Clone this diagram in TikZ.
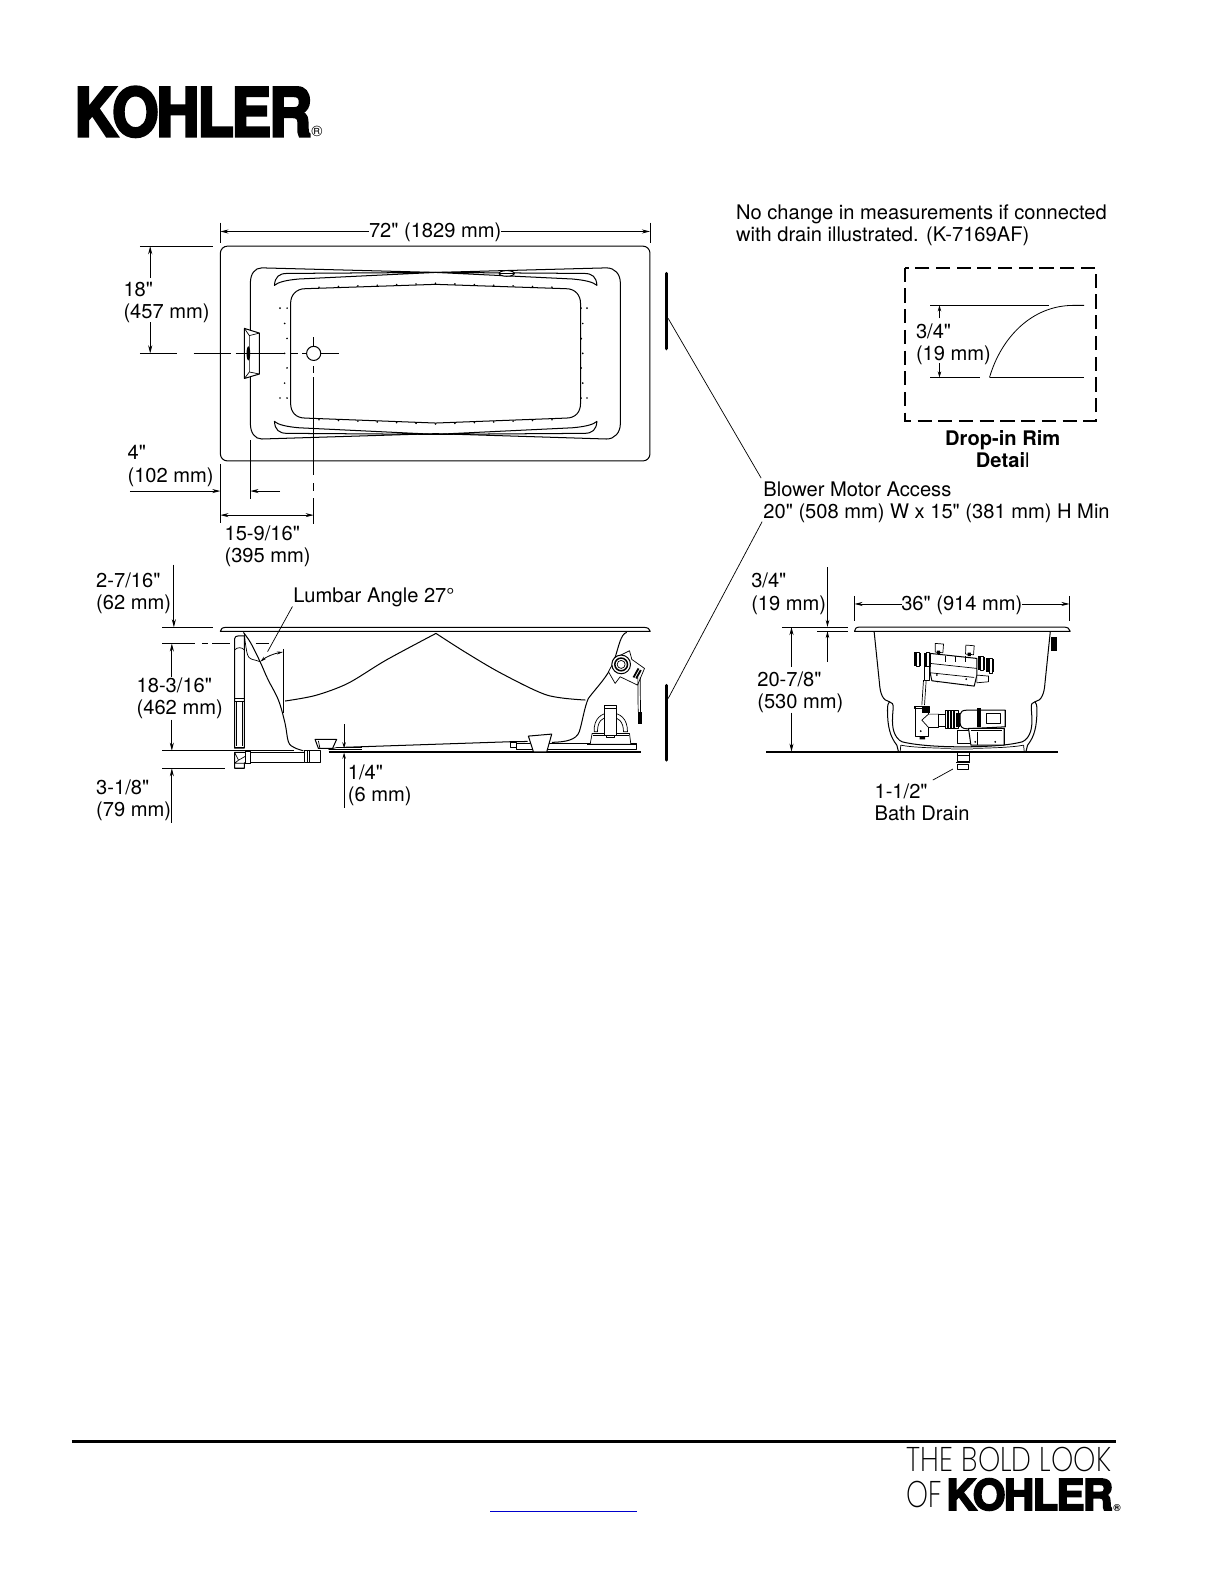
\documentclass[tikz,border=0pt]{standalone}
\usepackage{fontspec}
\usetikzlibrary{arrows.meta}
\setmainfont{TeX Gyre Heros}
\newfontfamily\lblfont{TeX Gyre Heros}
\newfontfamily\logofont[FakeBold=4,LetterSpace=-4]{TeX Gyre Heros Bold}
\newfontfamily\thinlogo{Poppins ExtraLight}
\tikzset{
  lbl/.style={anchor=west,align=left,inner sep=0pt,yshift=-2pt,font=\lblfont\fontsize{19.9}{22}\selectfont},
  main/.style={line width=1pt,black,line join=round},
  fine/.style={line width=.7pt,black,line join=round},
  dimline/.style={line width=.8pt,black},
  tip/.style={arrows={-{Stealth[length=8pt,width=4pt]}}},
  tipb/.style={arrows={{Stealth[length=8pt,width=4pt]}-{Stealth[length=8pt,width=4pt]}}},
  thickbar/.style={line width=3pt,black,line cap=round},
}
\begin{document}
\begin{tikzpicture}[x=1pt,y=-1pt]
\useasboundingbox (0,0) rectangle (1212,1568);
\fill[white] (0,0) rectangle (1212,1568);

% ---- logo top
\node[inner sep=0pt,anchor=north west] (logotop) at (73.5,85.5) {\resizebox{235pt}{49pt}{\logofont KOHLER}};
\node[inner sep=0pt,font=\lblfont\fontsize{15}{15}\selectfont] (regtop) at (313.5,130.5) {®};

% ---- top view
\draw[main,rounded corners=7pt] (218,243.5) rectangle (643,456);
\draw[main] (259,265) -- (431,269.5) -- (600,265) .. controls (608,265) and (613.7,271) .. (613.7,280)
  -- (613.7,419) .. controls (613.7,428) and (608,434.3) .. (600,434.3) -- (431,429) -- (259,434.3)
  .. controls (252,434.3) and (247.7,428) .. (247.7,419) -- (247.7,280)
  .. controls (247.7,271) and (252,265) .. (259,265) -- cycle;
\foreach \sx/\sy in {1/1,-1/1,1/-1,-1/-1}{
  \begin{scope}[shift={(431,349.6)},xscale=\sx,yscale=\sy]
    \draw[main] (-159.5,-67.3) .. controls (-159,-75.6) and (-155,-79.1) .. (-147,-79.1)
      -- (0,-80.1) -- (-135,-73.6) .. controls (-147,-72.6) and (-156,-70.6) .. (-159.5,-67.3) -- cycle;
  \end{scope}
}
\draw[main] (302,285.6) -- (431,281.3) -- (560,285.6) .. controls (569,285.6) and (574.3,292) .. (574.3,300)
  -- (574.3,399) .. controls (574.3,408) and (569,413.6) .. (560,413.6) -- (431,418.5) -- (302,413.6)
  .. controls (293,413.6) and (287.5,408) .. (287.5,399) -- (287.5,300)
  .. controls (287.5,292) and (293,285.6) .. (302,285.6) -- cycle;
\foreach \xx in {315.6,334.8,354,373.2,392.4,411.6,430.8,450,469.2,488.4,507.6,526.8,546}{
  \pgfmathsetmacro\yya{281.3+abs(\xx-431)/30-1}
  \pgfmathsetmacro\yyb{418.5-abs(\xx-431)/27+1}
  \fill (\xx,\yya) circle (.9);
  \fill (\xx,\yyb) circle (.9);
}
\foreach \px/\py in {277/304.8,284/304.8,281.6/320,284/334.8,281.6/349.6,284/364,281.6/379,277/393.8,284/393.8,
  580.7/304.8,574.8/304.8,576.5/320,575/335,576.5/349.6,575/364,576.5/379,580.7/393.8,574.8/393.8}{
  \fill (\px,\py) circle (.9);
}
\draw[main,fill=white] (501.3,270.5) ellipse (7.5 and 2.8);
\draw[fine] (494,270.5) -- (508.6,270.5);
% grab bar
\draw[main,fill=white] (241.8,324.9) -- (256.6,329.5) -- (256.6,370) -- (241.8,374.4) -- cycle;
\draw[fine] (246.7,332) -- (246.7,368) (246.7,332) -- (256.6,329.5) (246.7,368) -- (256.6,370)
  (246.7,332) -- (241.8,324.9) (246.7,368) -- (241.8,374.4);
\fill (245.7,349.6) ellipse (1.8 and 7);
% drain
\node[circle,draw,line width=1pt,minimum size=14pt,inner sep=0pt] (drain) at (310.3,349.6) {};
% centre lines
\draw[dimline] (138.4,349.6) -- (175,349.6) (191.6,349.6) -- (229,349.6) (233,349.6) -- (282,349.6)
  (287,349.6) -- (294.5,349.6) (299,349.6) -- (303.3,349.6) (317.3,349.6) -- (335.8,349.6);
\draw[dimline] (310.3,333.8) -- (310.3,342.4) (310.3,362) -- (310.3,369.4) (310.3,373.4) -- (310.3,470)
  (310.3,478) -- (310.3,486) (310.3,493) -- (310.3,518);
% 72 dim
\node[lbl,anchor=center] (t72) at (430.5,228) {72" (1829 mm)};
\coordinate (a72l) at (218,229); \coordinate (a72r) at (643,229);
\draw[dimline,tip] (365,229) -- (a72l);
\draw[dimline,tip] (496,229) -- (a72r);
\draw[dimline] (218,220.3) -- (218,240) (643,220.3) -- (643,240);
% 18 dim
\draw[dimline] (138.4,243.5) -- (211,243.5);
\node[lbl] (t18) at (122,297) {18"\\(457 mm)};
\coordinate (a18t) at (148.6,243.5); \coordinate (a18b) at (148.6,349.6);
\draw[dimline,tip] (148.6,275) -- (a18t);
\draw[dimline,tip] (148.6,319) -- (a18b);
% 4 dim
\node[lbl] (t4) at (126,459) {4"\\(102 mm)};
\draw[dimline] (218,459) -- (218,517.8) (247.7,435.4) -- (247.7,493.4);
\coordinate (a4l) at (218,485.8); \coordinate (a4r) at (247.7,485.8);
\draw[dimline,tip] (128.6,485.8) -- (a4l);
\draw[dimline,tip] (277,485.8) -- (a4r);
% 15-9/16 dim
\coordinate (a15l) at (218,509.6); \coordinate (a15r) at (310.3,509.6);
\draw[dimline,tipb] (a15l) -- (a15r);
\node[lbl] (t15) at (222,538.5) {15-9/16"\\(395 mm)};

% ---- blower
\draw[thickbar] (659,270.5) -- (659,345);
\draw[thickbar] (659,678) -- (659,752);
\node[lbl] (tblower) at (755,495) {Blower Motor Access\\20" (508 mm) W x 15" (381 mm) H Min};
\coordinate (lba) at (661,315); \coordinate (lbb) at (753,473);
\coordinate (lbc) at (661,691); \coordinate (lbd) at (754,516);
\draw[fine] (lba) -- (lbb) (lbc) -- (lbd);

% ---- top right note
\node[lbl] (tnote) at (728,220.5) {No change in measurements if connected\\with drain illustrated. (K-7169AF)};

% ---- drop-in detail
\draw[line width=2pt,dash pattern=on 14pt off 6.5pt] (895.1,264.8) rectangle (1083.8,416.2);
\draw[dimline] (920.2,302.1) -- (1037.6,302.1) (920.2,373.4) -- (969.6,373.4) (978.9,373.4) -- (1072.6,373.4);
\draw[dimline] (978.9,373.4) .. controls (990,335) and (1020,302.1) .. (1062,302.1) -- (1072.6,302.1);
\node[lbl] (t34d) at (906,338.5) {3/4"\\(19 mm)};
\coordinate (a34t) at (929.4,302.1); \coordinate (a34b) at (929.4,373.4);
\draw[dimline,arrows={-{Stealth[length=6pt,width=3.5pt]}}] (929.4,315) -- (a34t);
\draw[dimline,arrows={-{Stealth[length=6pt,width=3.5pt]}}] (929.4,359.5) -- (a34b);
\node[lbl,anchor=center,align=center] (tdrop) at (992,442) {\textbf{Drop-in Rim}\\\textbf{Detai}l};

% ---- side view
\draw[main] (218,624.6) .. controls (218,622) and (220,620.6) .. (224,620.6) -- (636,620.6)
  .. controls (641,620.6) and (643,622) .. (643.3,624.6) -- cycle;
% left wall
\draw[main] plot[smooth,tension=.6] coordinates {(240.8,625.6) (248,636) (257.3,654.6) (265,672) (275.4,692.5) (282,715.6) (285.3,733.8) (291,739.5) (300.1,742.7)};
\draw[fine] plot[smooth,tension=.6] coordinates {(241.8,626.6) (243,638) (246,650) (254,653.5) (257.3,654.6)};
% back curve
\draw[main] plot[smooth,tension=.5] coordinates {(282,693.5) (312,688) (344.2,676) (382,653) (431.3,626.6)};
\draw[main] plot[smooth,tension=.5] coordinates {(431.3,626.6) (460,645) (495.7,666) (541,687.6) (579,692.5)};
% right wall
\draw[main] (620,625.6) .. controls (614,627) and (612,640) .. (608,652) .. controls (603,668) and (590,680) .. (582,691)
  .. controls (578,700) and (576,715) .. (573,724) .. controls (570,732) and (560,734) .. (546,734.4);
% floor
\draw[main] (340.4,739.3) -- (507,733.7) -- (522,733.5);
\draw[dimline] (160.5,742.6) -- (291,742.6);
\draw[fine] (325,741.5) -- (358,741.5) (325,741.5) -- (333,739.5) -- (358,739.5);
\draw[line width=1.5pt] (325,743.7) -- (634,743.7);
% rim dims
\draw[dimline] (160.5,620.6) -- (211,620.6);
\draw[dimline] (160.5,636.5) -- (192.7,636.5) (199.6,636.5) -- (206,636.5) (210,636.5) -- (228,636.5) (253,636.5) -- (266,636.5);
\draw[dimline] (160.5,760) -- (223,760);
\node[lbl] (t27) at (95,585) {2-7/16"\\(62 mm)};
\coordinate (a27) at (172,620.6);
\draw[dimline,tip] (172,558.6) -- (a27);
\node[lbl] (t183) at (135,689) {18-3/16"\\(462 mm)};
\coordinate (a183t) at (170,636.5); \coordinate (a183b) at (170,742.6);
\draw[dimline,tip] (170,669.4) -- (a183t);
\draw[dimline,tip] (170,712) -- (a183b);
\node[lbl] (t318) at (95,790) {3-1/8"\\(79 mm)};
\coordinate (a318) at (170,760);
\draw[dimline,tip] (170,814) -- (a318);
\node[lbl] (t14) at (344,775) {1/4"\\(6 mm)};
\coordinate (a14t) at (340.4,740.3); \coordinate (a14b) at (340.4,744.6);
\draw[dimline,arrows={-{Stealth[length=6pt,width=3.5pt]}}] (340.4,716.6) -- (a14t);
\draw[dimline,arrows={-{Stealth[length=6pt,width=3.5pt]}}] (340.4,799) -- (a14b);
% lumbar
\node[lbl] (tlumbar) at (290,589) {Lumbar Angle 27°};
\coordinate (lumbtip) at (264.7,644.7); \coordinate (lumbtop) at (289.3,600);
\draw[fine] (lumbtop) -- (lumbtip);
\draw[dimline] (280.4,642) -- (280.4,705.8);
\draw[dimline,arrows={{Stealth[length=6pt,width=3pt]}-{Stealth[length=6pt,width=3pt]}}] (257.5,654.6) .. controls (263,650) and (271,646.5) .. (280,645);
% overflow pipe
\draw[main,fill=white] (232,642) -- (232,632) .. controls (232,630) and (234,629) .. (236,629) -- (241.8,629) -- (241.8,740) -- (232,740) -- cycle;
\draw[fine] (232,691) -- (241.8,691) (232,694) -- (241.8,694) (233.5,694) -- (233.5,738) (240,694) -- (240,738);
\draw[line width=1.4pt] (231.5,739.5) -- (242.5,739.5);
\draw[fine] (232,643) .. controls (235,640) and (239,640) .. (241.8,643);
% drain assembly below floor
\draw[main,fill=white] (232,744.3) -- (243,744.3) -- (243,754) -- (241.8,755) -- (241.8,760) -- (232,760) -- cycle;
\draw[fine] (232,755) -- (241.8,755) (232,744.3) -- (236,752) -- (232,755) (236,752) -- (243,748);
\draw[main,fill=white] (245.7,744.7) rectangle (301,754.6);
\draw[line width=1.2pt,fill=white] (243,743.5) rectangle (248,755.5);
\draw[main,fill=white] (301,742.7) -- (316.6,742.7) -- (316.6,754.6) -- (301,754.6) -- cycle;
\draw[fine] (304,742.7) -- (304,754.6) (306,742.7) -- (306,754.6);
\draw[main,fill=white] (311.7,731.5) -- (333,731.5) -- (329,740.4) -- (315,740.4) -- cycle;
\draw[fine] (315,733) -- (316.5,740.4);
% right plate and pedestal
\draw[fine,fill=white] (504.6,734.8) rectangle (510.5,739.4);
\draw[main,fill=white] (510.5,736) rectangle (629.3,741.4);
\draw[main,fill=white] (522.7,728.2) -- (545.8,726.2) -- (540.9,743.7) -- (527.7,743.7) -- cycle;
\begin{scope}[shift={(504.6,613.4)},x=.33pt,y=-.33pt]
  % motor
  \draw[fine,fill=white] (240,372) -- (246,340) -- (358,340) -- (362,372) -- cycle;
  \draw[fine] (248,345) -- (355,345) (232,372) -- (376,372);
  \draw[fine,fill=white] (252,335) .. controls (250,295) and (275,278) .. (300,278) .. controls (330,278) and (352,295) .. (352,335) -- (340,335) .. controls (340,305) and (325,290) .. (300,290) .. controls (275,290) and (262,305) .. (262,335) -- cycle;
  \draw[main,fill=white] (282,256) rectangle (320,345);
  \draw[fine] (282,266) -- (320,266) (290,345) -- (290,352) -- (312,352) -- (312,345);
  % control
  \draw[fine,fill=white] (318,112) -- (358,92) -- (365,118) -- (403,145) -- (382,195) -- (330,170) -- (315,190) -- (295,155) -- cycle;
  \draw[main,fill=white] (333,133) circle (28);
  \draw[line width=1.5pt] (333,133) circle (19);
  \draw[fine] (333,133) circle (12);
  \draw[line width=1.8pt] (370,172) -- (385,145) (378,175) -- (392,150);
  \draw[fine] (383,172) -- (384,275) (390,172) -- (391,275);
  \fill (383,275) rectangle (395,312);
\end{scope}

% ---- end view
\draw[main] (845.3,624.6) .. controls (845.3,622) and (847,620.3) .. (851,620.3) -- (1052,620.3)
  .. controls (1056,620.3) and (1058.7,622) .. (1058.7,624.6) -- cycle;
\draw[line width=2pt] (758,743.6) -- (1046.5,743.6);
\node[lbl,anchor=center] (t36) at (951.5,597) {36" (914 mm)};
\coordinate (a36l) at (845.3,597.5); \coordinate (a36r) at (1058,597.5);
\draw[dimline,tip] (892,597.5) -- (a36l);
\draw[dimline,tip] (1011,597.5) -- (a36r);
\draw[dimline] (845.3,589.6) -- (845.3,614.4) (1058,589.6) -- (1058,614.4);
\draw[dimline] (773.4,620.3) -- (838.4,620.3) (808.7,624.3) -- (838.4,624.3);
\node[lbl] (t34s) at (743,585.5) {3/4"\\(19 mm)};
\coordinate (a34e) at (818.6,620.3); \coordinate (a34f) at (818.6,624.3);
\draw[dimline,arrows={-{Stealth[length=7pt,width=3.5pt]}}] (818.6,561.3) -- (a34e);
\draw[dimline,arrows={-{Stealth[length=7pt,width=3.5pt]}}] (818.6,654.6) -- (a34f);
\node[lbl] (t207) at (749,683) {20-7/8"\\(530 mm)};
\coordinate (a207t) at (783,620.3); \coordinate (a207b) at (783,743.6);
\draw[dimline,tip] (783,659.5) -- (a207t);
\draw[dimline,tip] (783,705) -- (a207b);
\node[lbl] (tdrainlbl) at (865,791.5) {1-1/2"\\Bath Drain};
\begin{scope}[shift={(870.7,623.3)},x=.33pt,y=-.33pt]
  % walls
  \draw[line width=1pt] (-18,5) -- (-2,160) .. controls (0,190) and (8,212) .. (28,215)
    .. controls (36,216) and (40,222) .. (39,235) .. controls (36,270) and (34,300) .. (50,322)
    .. controls (56,330) and (60,332) .. (66,335)
    .. controls (110,346) and (180,350) .. (245,350) .. controls (320,350) and (384,346) .. (426,335)
    .. controls (432,332) and (436,330) .. (442,322) .. controls (458,300) and (456,270) .. (453,235)
    .. controls (452,222) and (456,216) .. (464,215) .. controls (484,212) and (492,190) .. (494,160) -- (510,5);
  \draw[line width=1pt] (28,215) .. controls (24,218) and (22,225) .. (22,240) .. controls (22,290) and (30,320) .. (50,345) -- (55,365);
  \draw[line width=1pt] (464,215) .. controls (468,218) and (470,225) .. (470,240) .. controls (470,290) and (462,320) .. (442,345) -- (437,365);
  \draw[fine] (62,345) .. controls (120,358) and (370,358) .. (430,345) (62,345) -- (60,365) (430,345) -- (432,365);
  % jet at right
  \fill (512,20) rectangle (530,62);
  % manifold box
  \draw[fine,fill=white] (165,40) -- (190,42) -- (188,68) -- (165,66) -- cycle;
  \draw[fine,fill=white] (257,45) -- (282,47) -- (280,74) -- (256,72) -- cycle;
  \fill (170,62) rectangle (180,72) (262,68) rectangle (272,78);
  \draw[main,fill=white] (150,70) -- (290,85) -- (290,135) -- (282,168) -- (155,152) -- (150,128) -- cycle;
  \draw[fine] (150,100) -- (290,115) (150,128) -- (282,142);
  \foreach \tx in {195,225,255}{\draw[fine] (\tx,78) -- (\tx,95);}
  \fill (170,135) circle (3) (258,147) circle (3) (172,155) circle (2) (262,165) circle (2);
  \foreach \kx/\ky in {100/66,130/68,292/78,318/85}{
    \fill (\kx,\ky) rectangle ++(8,42);
    \draw[fine,fill=white] (\kx+8,\ky) rectangle ++(10,44);
    \fill (\kx+18,\ky+2) rectangle ++(5,40);
  }
  \draw[fine,fill=white] (132,110) rectangle (148,150);
  \draw[fine,fill=white] (290,135) -- (325,138) -- (325,155) -- (290,158) -- cycle;
  \draw[fine] (130,150) -- (125,225) (138,150) -- (133,225);
  % pump
  \draw[main,fill=white] (105,228) -- (145,228) -- (145,320) -- (105,320) -- cycle;
  \draw[fine] (102,228) -- (148,228) -- (148,236) -- (102,236) -- cycle;
  \fill (125,232) rectangle (148,248);
  \draw[fine,fill=white] (145,252) -- (175,252) -- (175,292) -- (145,292) -- (125,270) -- cycle;
  \fill (118,320) rectangle (135,328) (122,303) circle (3);
  \draw[main,fill=white] (175,254) rectangle (195,290);
  \draw[fine,fill=white] (195,240) rectangle (235,295);
  \foreach \lx in {203,212,221}{\draw[line width=1.5pt] (\lx,240) -- (\lx,295);}
  \fill (228,248) rectangle (240,290);
  \draw[main,fill=white] (240,252) .. controls (240,244) and (248,240) .. (262,240) -- (375,240) -- (375,290) -- (260,296) .. controls (248,296) and (240,290) .. (240,280) -- cycle;
  \fill (290,234) rectangle (303,292);
  \draw[fine] (318,250) rectangle (360,280);
  \draw[fine,fill=white] (232,300) rectangle (270,340);
  \draw[main,fill=white] (265,295) -- (372,295) -- (372,345) -- (272,345) -- cycle;
  \draw[fine] (272,300) -- (365,300) (290,305) -- (290,345);
  \fill (285,335) circle (3) (345,335) circle (3);
  % drain
  \fill[gray!60] (213,353) rectangle (278,360);
  \draw[fine,fill=white] (230,367) rectangle (266,395);
  \draw[fine] (230,375) -- (266,375);
  \draw[main,fill=white] (232,402) rectangle (264,417);
  \draw[line width=1.2pt] (228,396) -- (268,396);
\end{scope}
\coordinate (ldra) at (942.6,760.8); \coordinate (ldrb) at (922.8,771.7);
\draw[fine] (ldra) -- (ldrb);

% ---- footer
\draw[line width=3pt] (71,1426) -- (1104,1426);
\draw[line width=1pt,blue!80!black] (485,1495) -- (630,1495);
\node[inner sep=0pt,anchor=north west] (slogan) at (897,1431) {\resizebox{202pt}{24pt}{\thinlogo THE BOLD LOOK}};
\node[inner sep=0pt,anchor=north west] (sof) at (897,1465) {\resizebox{35pt}{26pt}{\thinlogo OF}};
\node[inner sep=0pt,anchor=north west] (logobot) at (936,1462.5) {\resizebox{165pt}{31pt}{\logofont KOHLER}};
\node[inner sep=0pt,font=\lblfont\fontsize{10}{10}\selectfont\bfseries] (regbot) at (1105,1491.5) {®};
\end{tikzpicture}
\end{document}
